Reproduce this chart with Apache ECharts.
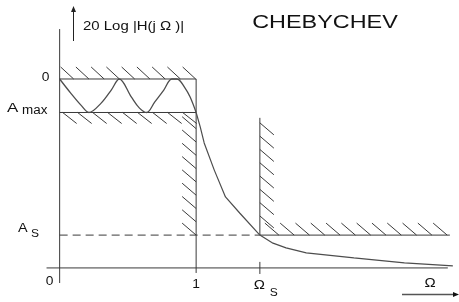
<!DOCTYPE html>
<html>
<head>
<meta charset="utf-8">
<script src="https://cdn.jsdelivr.net/npm/echarts@6/dist/echarts.min.js"></script>
<style>
html,body{margin:0;padding:0;background:#fff;}
#main{width:459px;height:302px;}
</style>
</head>
<body>
<div id="main"></div>
<script>
// Ω normalised to the passband edge, gain normalised to Amax
var omegaP = 1;
var omegaS = 1.467;
var levelZero = 0;
var levelAmax = -1;
var levelAs = -4.66;
var levelFloor = -5.64;

// passband ripple
var passbandCurve = [
    [0, 0], [0.081, -0.42], [0.156, -0.78], [0.215, -1], [0.304, -0.72],
    [0.378, -0.33], [0.437, 0], [0.526, -0.54], [0.585, -0.87], [0.637, -1],
    [0.696, -0.69], [0.763, -0.33], [0.822, 0], [0.859, 0], [0.919, -0.27],
    [0.956, -0.54], [1, -1]
];
// roll-off and stopband
var stopbandCurve = [
    [1, -1], [1.03, -1.43], [1.059, -1.91], [1.133, -2.72], [1.215, -3.52],
    [1.319, -4.0], [1.467, -4.66], [1.563, -4.9], [1.659, -5.04], [1.807, -5.19],
    [2.156, -5.34], [2.526, -5.49], [2.881, -5.58]
];

// solid frame lines
var frameLines = [
    [[0, 1.49], [0, -6.09]],                 // gain axis
    [[-0.096, levelFloor], [2.844, levelFloor]], // Ω axis
    [[0, levelZero], [omegaP, levelZero]],
    [[0, levelAmax], [omegaP, levelAmax]],
    [[omegaP, levelZero], [omegaP, -5.79]],
    [[omegaS, -1.16], [omegaS, levelAs]],
    [[omegaS, -5.46], [omegaS, -5.82]],
    [[omegaS, levelAs], [2.859, levelAs]]
];
var dashedLine = [[0, levelAs], [omegaS, levelAs]];

// forbidden zones, hatched on one side of the boundary
var hatchBands = [
    { from: [0, levelZero], to: [omegaP, levelZero], side: 'up' },
    { from: [0, levelAmax], to: [omegaP, levelAmax], side: 'down' },
    { from: [omegaP, -1.1], to: [omegaP, levelAs], side: 'left' },
    { from: [omegaS, -1.16], to: [omegaS, levelAs], side: 'right' },
    { from: [omegaS, levelAs], to: [2.859, levelAs], side: 'up2' }
];

var lineColor = '#3a3a3a';
var curveColor = '#4d4d4d';
var textColor = '#111';
var textFont = '"Liberation Sans", Arial, sans-serif';

var chart = echarts.init(document.getElementById('main'));

function segSeries(seg, dashed){
    return {
        type: 'line',
        data: seg,
        showSymbol: false,
        symbol: 'none',
        silent: true,
        lineStyle: { color: lineColor, width: 1, type: dashed ? [8, 5] : 'solid' }
    };
}

function renderHatch(params, api){
    var band = hatchBands[params.dataIndex];
    var p0 = api.coord([api.value(0), api.value(1)]);
    var p1 = api.coord([api.value(2), api.value(3)]);
    var segs = [];
    var v;
    if (band.side === 'up'){
        for (v = p0[0] + 1; v + 13 <= p1[0] + 1.5; v += 15.25){
            segs.push([v, p0[1] - 12, v + 13, p0[1]]);
        }
    } else if (band.side === 'up2'){
        for (v = p0[0] + 5; v + 14 <= p1[0] + 1; v += 15.3){
            segs.push([v, p0[1] - 12, v + 14, p0[1]]);
        }
    } else if (band.side === 'down'){
        for (v = p0[0] + 3; v <= p1[0] - 12; v += 15){
            segs.push([v, p0[1], v + 14, p0[1] + 11]);
        }
    } else if (band.side === 'left'){
        for (v = p1[1]; v - 12 >= p0[1]; v -= 13.3){
            segs.push([p0[0] - 14, v - 12, p0[0], v]);
        }
    } else if (band.side === 'right'){
        for (v = p0[1] + 5; v + 12 <= p1[1] - 6; v += 13.3){
            segs.push([p0[0], v, p0[0] + 14, v + 12]);
        }
    }
    return {
        type: 'group',
        children: segs.map(function(s){
            return {
                type: 'line',
                shape: { x1: s[0], y1: s[1], x2: s[2], y2: s[3] },
                style: { stroke: lineColor, lineWidth: 1 }
            };
        })
    };
}

var series = [];
for (var i = 0; i < frameLines.length; i++){
    series.push(segSeries(frameLines[i], false));
}
series.push(segSeries(dashedLine, true));
series.push({
    type: 'custom',
    renderItem: renderHatch,
    silent: true,
    data: hatchBands.map(function(b){ return [b.from[0], b.from[1], b.to[0], b.to[1]]; })
});
series.push({
    type: 'line', data: passbandCurve, smooth: 0.35, showSymbol: false, symbol: 'none', silent: true,
    lineStyle: { color: curveColor, width: 1.3 }
});
series.push({
    type: 'line', data: stopbandCurve, showSymbol: false, symbol: 'none', silent: true,
    lineStyle: { color: curveColor, width: 1.2 }
});

chart.setOption({
    animation: false,
    backgroundColor: '#fff',
    grid: { left: 0, right: 0, top: 0, bottom: 0 },
    xAxis: { type: 'value', min: -0.437, max: 2.926, show: false },
    yAxis: { type: 'value', min: -6.657, max: 2.358, show: false },
    series: series
});

function px(pt){ return chart.convertToPixel({ gridIndex: 0 }, pt); }
function txt(text, x, y, size, align, sx){
    return {
        type: 'text', x: x, y: y, scaleX: sx || 1.15, silent: true,
        style: { text: text, font: size + 'px ' + textFont, fill: textColor,
                 textAlign: align || 'center', textVerticalAlign: 'middle' }
    };
}

var pZero = px([0, levelZero]);
var pAmax = px([0, levelAmax]);
var pAs = px([0, levelAs]);
var pOrigin = px([0, levelFloor]);
var pOne = px([omegaP, levelFloor]);
var pS = px([omegaS, levelFloor]);

chart.setOption({
    graphic: [
        txt('CHEBYCHEV', 325, 23, 18, 'center', 1.3),
        txt('20 Log |H(j Ω )|', 83, 26, 13, 'left', 1.15),
        txt('0', pZero[0] - 14, pZero[1] - 1, 12, 'center'),
        txt('A', 7, pAmax[1] - 4, 13, 'left', 1.3),
        txt('max', 22, pAmax[1] - 2, 12, 'left', 1.12),
        txt('A', 18, pAs[1] - 6, 12, 'left', 1.2),
        txt('S', 31, pAs[1] - 1, 10, 'left', 1.2),
        txt('0', pOrigin[0] - 10, pOrigin[1] + 14, 12, 'center'),
        txt('1', pOne[0], pOne[1] + 17, 12, 'center'),
        txt('Ω', pS[0] - 0.5, pS[1] + 17, 13, 'center'),
        txt('S', pS[0] + 14, pS[1] + 25, 10, 'center', 1.2),
        txt('Ω', 430, 283, 13, 'center'),
        // gain arrow
        { type: 'line', silent: true, shape: { x1: 73.5, y1: 41, x2: 73.5, y2: 11 }, style: { stroke: '#222', lineWidth: 1 } },
        { type: 'polygon', silent: true, shape: { points: [[71, 12], [76, 12], [73.5, 6]] }, style: { fill: '#222' } },
        // Ω arrow
        { type: 'line', silent: true, shape: { x1: 402, y1: 294.5, x2: 454, y2: 294.5 }, style: { stroke: '#555', lineWidth: 1.5 } },
        { type: 'polygon', silent: true, shape: { points: [[453, 292], [453, 297], [459, 294.5]] }, style: { fill: '#111' } }
    ]
});
</script>
</body>
</html>
